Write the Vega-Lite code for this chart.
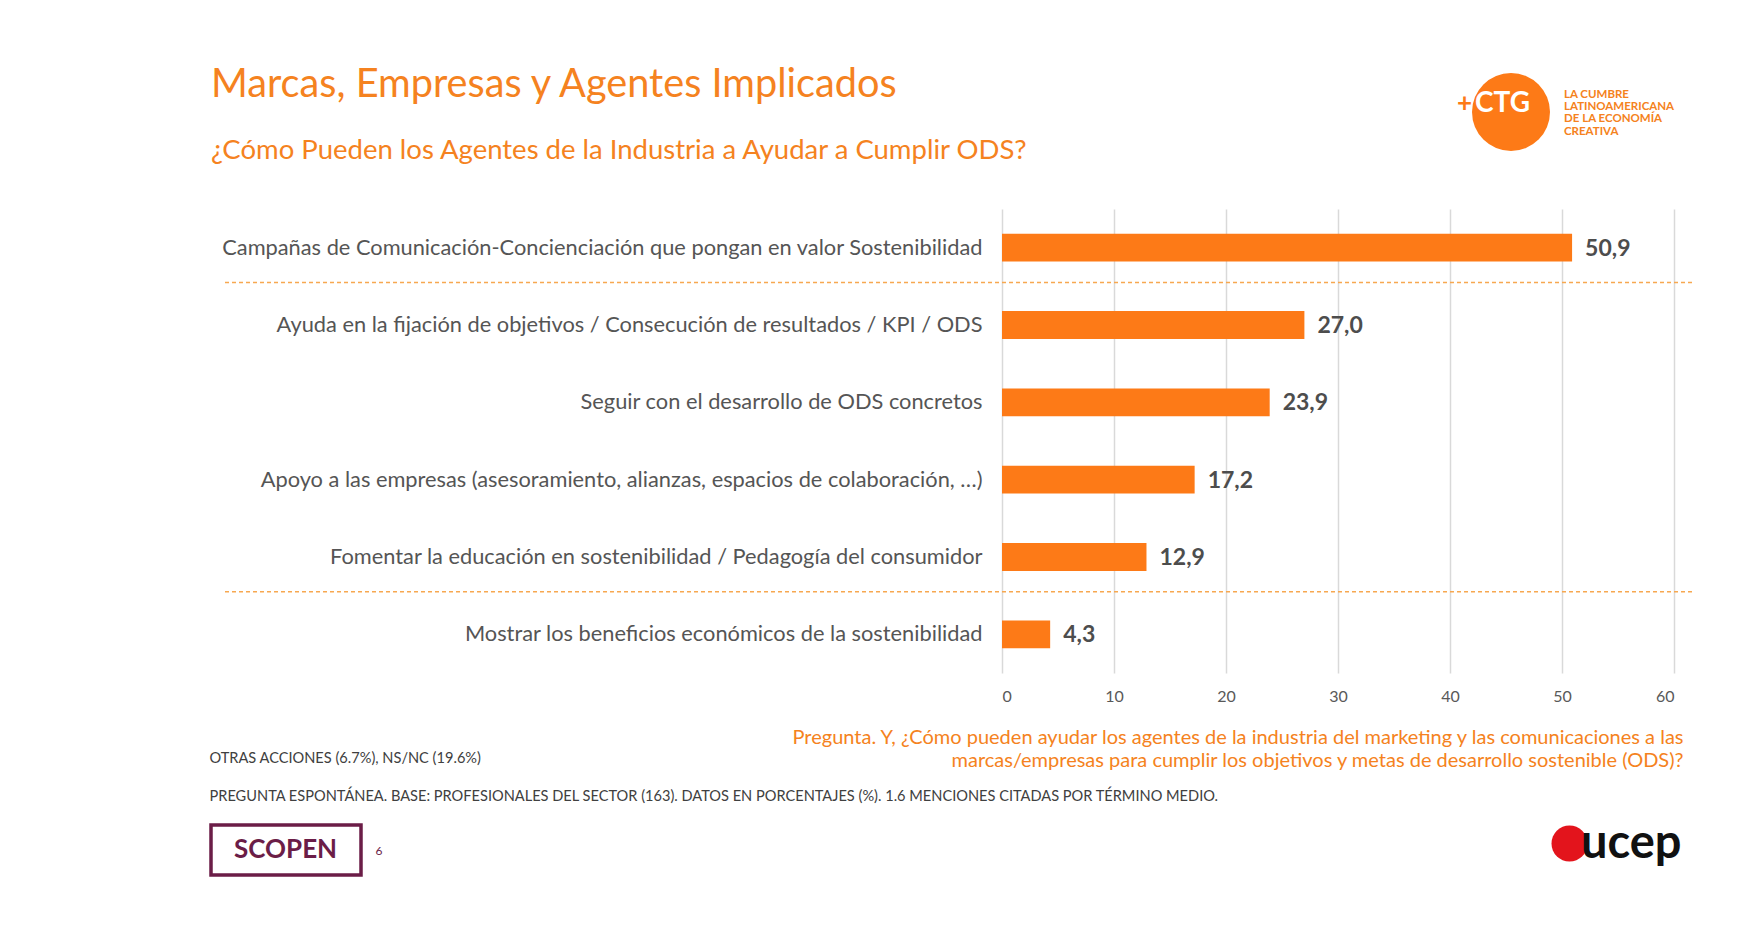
{
  "$schema": "https://vega.github.io/schema/vega-lite/v6.json",
  "width": 1468,
  "height": 464,
  "autosize": {"type": "none"},
  "padding": {"left": 224, "top": 209, "right": 68, "bottom": 272},
  "background": "white",
  "config": {
    "font": "Lato",
    "view": {"stroke": null},
    "locale": {"number": {"decimal": ",", "thousands": ".", "grouping": [3], "currency": ["", " €"]}}
  },
  "title": {
    "text": "Marcas, Empresas y Agentes Implicados",
    "subtitle": "¿Cómo Pueden los Agentes de la Industria a Ayudar a Cumplir ODS?",
    "anchor": "start",
    "frame": "group",
    "dx": -13,
    "offset": -92,
    "font": "Lato",
    "fontSize": 39.7,
    "fontWeight": "normal",
    "color": "#F58220",
    "subtitleFont": "Lato",
    "subtitleFontSize": 27.5,
    "subtitleColor": "#F58220",
    "subtitlePadding": 31
  },
  "data": {
    "values": [
      {"accion": "Campañas de Comunicación-Concienciación que pongan en valor Sostenibilidad", "valor": 50.9},
      {"accion": "Ayuda en la fijación de objetivos / Consecución de resultados / KPI / ODS", "valor": 27.0},
      {"accion": "Seguir con el desarrollo de ODS concretos", "valor": 23.9},
      {"accion": "Apoyo a las empresas (asesoramiento, alianzas, espacios de colaboración, …)", "valor": 17.2},
      {"accion": "Fomentar la educación en sostenibilidad / Pedagogía del consumidor", "valor": 12.9},
      {"accion": "Mostrar los beneficios económicos de la sostenibilidad", "valor": 4.3}
    ]
  },
  "layer": [
    {
      "mark": {"type": "bar", "height": {"band": 0.36}},
      "encoding": {
        "x": {
          "field": "valor",
          "type": "quantitative",
          "scale": {"domain": [0, 60], "range": [778, 1450], "nice": false, "zero": true},
          "axis": {
            "orient": "bottom",
            "values": [0, 10, 20, 30, 40, 50, 60],
            "grid": true,
            "gridColor": "#d9d9d9",
            "gridWidth": 1.5,
            "domain": false,
            "ticks": false,
            "labelFontSize": 16,
            "labelColor": "#595959",
            "labelPadding": 15,
            "title": [
              "Pregunta. Y, ¿Cómo pueden ayudar los agentes de la industria del marketing y las comunicaciones a las",
              "marcas/empresas para cumplir los objetivos y metas de desarrollo sostenible (ODS)?"
            ],
            "titleX": 1459,
            "titleY": 70,
            "titleAlign": "right",
            "titleBaseline": "alphabetic",
            "titleFontSize": 20,
            "titleFontWeight": "normal",
            "titleColor": "#F58220",
            "titleLineHeight": 23
          }
        },
        "y": {
          "field": "accion",
          "type": "nominal",
          "sort": null,
          "scale": {"paddingInner": 0, "paddingOuter": 0},
          "axis": {
            "orient": "left",
            "offset": -778,
            "domain": false,
            "ticks": false,
            "grid": false,
            "labelPadding": 20,
            "labelFontSize": 21.8,
            "labelColor": "#555555",
            "labelLimit": 1200,
            "title": [
              "OTRAS ACCIONES (6.7%), NS/NC (19.6%)",
              "PREGUNTA ESPONTÁNEA. BASE: PROFESIONALES DEL SECTOR (163). DATOS EN PORCENTAJES (%). 1.6 MENCIONES CITADAS POR TÉRMINO MEDIO."
            ],
            "titleAngle": 0,
            "titleX": -793,
            "titleY": 553,
            "titleAlign": "left",
            "titleBaseline": "alphabetic",
            "titleFontSize": 14.6,
            "titleFontWeight": "normal",
            "titleColor": "#404040",
            "titleLineHeight": 38
          }
        },
        "color": {
          "datum": "CTG",
          "type": "nominal",
          "scale": {"domain": ["CTG", "ucep"], "range": ["#FD7A17", "#E3141C"]},
          "legend": {
            "values": ["ucep"],
            "orient": "none", "legendX": 1322, "legendY": 611, "padding": 0, "title": null,
            "symbolType": "circle", "symbolSize": 1296, "symbolStrokeWidth": 0, "symbolOpacity": 1,
            "labelColor": "#111111", "labelFontSize": 47, "labelFontWeight": "bold", "labelOffset": -12,
            "labelFont": "Lato"
          }
        },
        "opacity": {
          "datum": "CTG",
          "type": "nominal",
          "scale": {"range": [1]},
          "legend": {
            "orient": "none", "legendX": 1233, "legendY": -136, "padding": 0,
            "title": "+", "titleOrient": "left", "titleColor": "#FD7A17", "titleFontSize": 26,
            "titleFontWeight": "bold", "titlePadding": -1, "titleAnchor": "middle", "titleBaseline": "alphabetic",
            "titleFont": "Lato",
            "symbolType": "circle", "symbolSize": 6084, "symbolStrokeWidth": 0,
            "labelColor": "#ffffff", "labelFontSize": 28, "labelFontWeight": "bold", "labelOffset": -75,
            "labelBaseline": "alphabetic", "labelFont": "Lato"
          }
        }
      }
    },
    {
      "mark": {"type": "text", "align": "left", "baseline": "middle", "dx": 13, "dy": 1, "fontSize": 23, "fontWeight": "bold", "color": "#4d4d4d"},
      "encoding": {
        "x": {
          "field": "valor",
          "type": "quantitative",
          "axis": {
            "orient": "top",
            "labels": false,
            "ticks": false,
            "domain": false,
            "grid": false,
            "title": "6",
            "titleX": 151,
            "titleY": 645,
            "titleAlign": "left",
            "titleBaseline": "alphabetic",
            "titleFontSize": 12,
            "titleFontWeight": "normal",
            "titleColor": "#6B1D47"
          }
        },
        "y": {
          "field": "accion",
          "type": "nominal",
          "sort": null,
          "axis": {
            "orient": "right",
            "labels": false,
            "ticks": false,
            "domain": false,
            "grid": false,
            "title": ["LA CUMBRE", "LATINOAMERICANA", "DE LA ECONOMÍA", "CREATIVA"],
            "titleAngle": 0,
            "titleX": -128.5,
            "titleY": -112,
            "titleAlign": "left",
            "titleBaseline": "alphabetic",
            "titleFontSize": 11.5,
            "titleFontWeight": "bold",
            "titleColor": "#F58220",
            "titleLineHeight": 12.4
          }
        },
        "text": {"field": "valor", "type": "quantitative", "format": ".1f"}
      }
    },
    {
      "transform": [
        {"filter": {"field": "accion", "oneOf": [
          "Ayuda en la fijación de objetivos / Consecución de resultados / KPI / ODS",
          "Mostrar los beneficios económicos de la sostenibilidad"
        ]}}
      ],
      "mark": {"type": "rule", "strokeWidth": 1.5, "strokeDash": [4, 3]},
      "encoding": {
        "y": {"field": "accion", "type": "nominal", "sort": null, "bandPosition": -0.05, "axis": null},
        "stroke": {
          "datum": "separador",
          "type": "nominal",
          "scale": {"domain": ["separador", "SCOPEN"], "range": ["#F7A850", "#6B1D47"]},
          "legend": {
            "values": ["SCOPEN"],
            "orient": "none", "legendX": -15, "legendY": 564, "padding": 0, "title": null,
            "symbolType": "M-1,-0.3333H1V0.3333H-1Z", "symbolSize": 22500, "symbolStrokeWidth": 3.5,
            "symbolDash": [], "symbolFillColor": "transparent",
            "labelColor": "#6B1D47", "labelFontSize": 26, "labelFontWeight": "bold", "labelOffset": -129,
            "labelFont": "Lato"
          }
        }
      }
    }
  ],
  "resolve": {"axis": {"x": "independent", "y": "independent"}}
}
